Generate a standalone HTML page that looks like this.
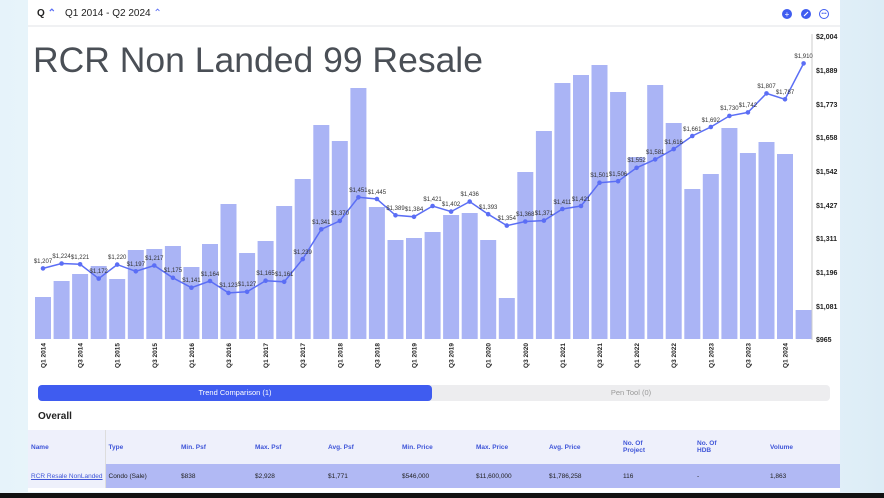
<!DOCTYPE html>
<html><head><meta charset="utf-8"><style>
body{margin:0;width:884px;height:498px;overflow:hidden;background:linear-gradient(90deg,#e6f3fa,#f2fbff 30%,#f2fbff 70%,#dcecf6);font-family:"Liberation Sans",sans-serif;position:relative}
.card{position:absolute;left:28px;top:0;width:812px;height:492px;background:#fff}
.top{position:absolute;left:0;top:0;width:812px;height:25px;border-bottom:2px solid #f0f1f3}
.bot{position:absolute;left:0;top:493px;width:884px;height:5px;background:#111}
table{border-collapse:collapse;font-size:6.5px;position:absolute;left:0;top:430px;width:812px;table-layout:fixed}
th{background:#eef0fb;color:#3f55d8;text-align:left;height:34px;font-weight:bold;padding:0 0 0 3px;vertical-align:middle}
td{background:#b1b9f4;height:24px;padding:0 0 0 3px;color:#222;white-space:nowrap}
</style></head><body>
<div class="card">
<div class="top">
<span style="position:absolute;left:9px;top:8px;font-size:10px;font-weight:bold;color:#222">Q <span style="color:#5b6ef5">⌃</span></span>
<span style="position:absolute;left:37px;top:8px;font-size:10px;color:#222">Q1 2014 - Q2 2024 <span style="color:#5b6ef5">⌃</span></span>
<svg style="position:absolute;left:752px;top:8px" width="50" height="12"><circle cx="7" cy="6" r="5" fill="#3f5cf0"/><text x="7" y="9" font-size="8" fill="#fff" text-anchor="middle">+</text><circle cx="26" cy="6" r="5" fill="#3f5cf0"/><line x1="24" y1="8" x2="28" y2="4" stroke="#fff" stroke-width="1.2"/><circle cx="44" cy="6" r="4.5" fill="none" stroke="#3f5cf0"/><text x="44" y="7" font-size="5" fill="#3f5cf0" text-anchor="middle">•••</text></svg>
</div>
<div style="position:absolute;left:5px;top:40px;font-size:35.5px;color:#4a4f56">RCR Non Landed 99 Resale</div>
<div style="position:absolute;left:10px;top:385px;width:792px;height:16px;background:#ededef;border-radius:4px"></div>
<div style="position:absolute;left:10px;top:385px;width:394px;height:16px;background:#3f5cf0;border-radius:4px;color:#fff;font-size:7.5px;text-align:center;line-height:16px">Trend Comparison (1)</div>
<div style="position:absolute;left:404px;top:385px;width:398px;height:16px;color:#999;font-size:7.5px;text-align:center;line-height:16px">Pen Tool (0)</div>
<div style="position:absolute;left:10px;top:411px;font-size:10px;font-weight:bold;color:#222">Overall</div>
<table><colgroup><col style="width:77px"><col style="width:73px"><col style="width:74px"><col style="width:73px"><col style="width:74px"><col style="width:74px"><col style="width:73px"><col style="width:74px"><col style="width:74px"><col style="width:73px"><col></colgroup>
<tr><th style="border-right:1px solid #ddd">Name</th><th>Type</th><th>Min. Psf</th><th>Max. Psf</th><th>Avg. Psf</th><th>Min. Price</th><th>Max. Price</th><th>Avg. Price</th><th>No. Of<br>Project</th><th>No. Of<br>HDB</th><th>Volume</th></tr>
<tr><td style="background:#eef0fb;color:#3f55d8;text-decoration:underline;border-right:1px solid #ddd">RCR Resale NonLanded</td><td>Condo (Sale)</td><td>$838</td><td>$2,928</td><td>$1,771</td><td>$546,000</td><td>$11,600,000</td><td>$1,786,258</td><td>116</td><td>-</td><td>1,863</td></tr></table>
</div>
<svg style="position:absolute;left:0;top:0" width="884" height="380" font-family="Liberation Sans,sans-serif">
<g fill="#aab4f5">
<rect x="35" y="297" width="16" height="42"/><rect x="53.6" y="281" width="16" height="58"/><rect x="72.1" y="274" width="16" height="65"/><rect x="90.7" y="266" width="16" height="73"/><rect x="109.2" y="279" width="16" height="60"/><rect x="127.8" y="250" width="16" height="89"/><rect x="146.3" y="249" width="16" height="90"/><rect x="164.9" y="246" width="16" height="93"/><rect x="183.4" y="267" width="16" height="72"/><rect x="202" y="244" width="16" height="95"/><rect x="220.5" y="204" width="16" height="135"/><rect x="239.1" y="253" width="16" height="86"/><rect x="257.6" y="241" width="16" height="98"/><rect x="276.2" y="206" width="16" height="133"/><rect x="294.7" y="179" width="16" height="160"/><rect x="313.3" y="125" width="16" height="214"/><rect x="331.8" y="141" width="16" height="198"/><rect x="350.4" y="88" width="16" height="251"/><rect x="368.9" y="207" width="16" height="132"/><rect x="387.5" y="240" width="16" height="99"/><rect x="406" y="238" width="16" height="101"/><rect x="424.6" y="232" width="16" height="107"/><rect x="443.1" y="215" width="16" height="124"/><rect x="461.7" y="213" width="16" height="126"/><rect x="480.2" y="240" width="16" height="99"/><rect x="498.8" y="298" width="16" height="41"/><rect x="517.3" y="172" width="16" height="167"/><rect x="535.9" y="131" width="16" height="208"/><rect x="554.4" y="83" width="16" height="256"/><rect x="573" y="75" width="16" height="264"/><rect x="591.5" y="65" width="16" height="274"/><rect x="610.1" y="92" width="16" height="247"/><rect x="628.6" y="157" width="16" height="182"/><rect x="647.2" y="85" width="16" height="254"/><rect x="665.7" y="123" width="16" height="216"/><rect x="684.3" y="189" width="16" height="150"/><rect x="702.8" y="174" width="16" height="165"/><rect x="721.4" y="128" width="16" height="211"/><rect x="739.9" y="153" width="16" height="186"/><rect x="758.5" y="142" width="16" height="197"/><rect x="777" y="154" width="16" height="185"/><rect x="795.6" y="310" width="16" height="29"/>
</g>
<line x1="812" y1="34" x2="812" y2="340" stroke="#ccc"/>
<polyline fill="none" stroke="#5b6ef5" stroke-width="1.5" points="43,268.4 61.6,263.5 80.1,264.3 98.7,278.6 117.2,264.6 135.8,271.3 154.3,265.5 172.9,277.8 191.4,287.7 210,281 228.5,292.9 247.1,291.8 265.6,280.7 284.2,281.8 302.7,259.1 321.3,229.3 339.8,220.9 358.4,197.3 376.9,199 395.5,215.3 414,216.8 432.6,206 451.1,211.6 469.7,201.6 488.2,214.2 506.8,225.6 525.3,221.5 543.9,220.6 562.4,209 581,206 599.5,182.7 618.1,181.2 636.6,167.8 655.2,159.4 673.7,149.1 692.3,136 710.8,127 729.4,115.9 747.9,112.4 766.5,93.4 785,99.3 803.6,63.4"/>
<g fill="#5b6ef5">
<circle cx="43" cy="268.4" r="2.3"/><circle cx="61.6" cy="263.5" r="2.3"/><circle cx="80.1" cy="264.3" r="2.3"/><circle cx="98.7" cy="278.6" r="2.3"/><circle cx="117.2" cy="264.6" r="2.3"/><circle cx="135.8" cy="271.3" r="2.3"/><circle cx="154.3" cy="265.5" r="2.3"/><circle cx="172.9" cy="277.8" r="2.3"/><circle cx="191.4" cy="287.7" r="2.3"/><circle cx="210" cy="281" r="2.3"/><circle cx="228.5" cy="292.9" r="2.3"/><circle cx="247.1" cy="291.8" r="2.3"/><circle cx="265.6" cy="280.7" r="2.3"/><circle cx="284.2" cy="281.8" r="2.3"/><circle cx="302.7" cy="259.1" r="2.3"/><circle cx="321.3" cy="229.3" r="2.3"/><circle cx="339.8" cy="220.9" r="2.3"/><circle cx="358.4" cy="197.3" r="2.3"/><circle cx="376.9" cy="199" r="2.3"/><circle cx="395.5" cy="215.3" r="2.3"/><circle cx="414" cy="216.8" r="2.3"/><circle cx="432.6" cy="206" r="2.3"/><circle cx="451.1" cy="211.6" r="2.3"/><circle cx="469.7" cy="201.6" r="2.3"/><circle cx="488.2" cy="214.2" r="2.3"/><circle cx="506.8" cy="225.6" r="2.3"/><circle cx="525.3" cy="221.5" r="2.3"/><circle cx="543.9" cy="220.6" r="2.3"/><circle cx="562.4" cy="209" r="2.3"/><circle cx="581" cy="206" r="2.3"/><circle cx="599.5" cy="182.7" r="2.3"/><circle cx="618.1" cy="181.2" r="2.3"/><circle cx="636.6" cy="167.8" r="2.3"/><circle cx="655.2" cy="159.4" r="2.3"/><circle cx="673.7" cy="149.1" r="2.3"/><circle cx="692.3" cy="136" r="2.3"/><circle cx="710.8" cy="127" r="2.3"/><circle cx="729.4" cy="115.9" r="2.3"/><circle cx="747.9" cy="112.4" r="2.3"/><circle cx="766.5" cy="93.4" r="2.3"/><circle cx="785" cy="99.3" r="2.3"/><circle cx="803.6" cy="63.4" r="2.3"/>
</g>
<g font-size="6" fill="#333" text-anchor="middle">
<text x="43" y="263">$1,207</text><text x="61.6" y="258">$1,224</text><text x="80.1" y="259">$1,221</text><text x="98.7" y="273">$1,172</text><text x="117.2" y="259">$1,220</text><text x="135.8" y="266">$1,197</text><text x="154.3" y="260">$1,217</text><text x="172.9" y="272">$1,175</text><text x="191.4" y="282">$1,141</text><text x="210" y="276">$1,164</text><text x="228.5" y="287">$1,123</text><text x="247.1" y="286">$1,127</text><text x="265.6" y="275">$1,165</text><text x="284.2" y="276">$1,161</text><text x="302.7" y="254">$1,239</text><text x="321.3" y="224">$1,341</text><text x="339.8" y="215">$1,370</text><text x="358.4" y="192">$1,451</text><text x="376.9" y="194">$1,445</text><text x="395.5" y="210">$1,389</text><text x="414" y="211">$1,384</text><text x="432.6" y="201">$1,421</text><text x="451.1" y="206">$1,402</text><text x="469.7" y="196">$1,436</text><text x="488.2" y="209">$1,393</text><text x="506.8" y="220">$1,354</text><text x="525.3" y="216">$1,368</text><text x="543.9" y="215">$1,371</text><text x="562.4" y="204">$1,411</text><text x="581" y="201">$1,421</text><text x="599.5" y="177">$1,501</text><text x="618.1" y="176">$1,506</text><text x="636.6" y="162">$1,552</text><text x="655.2" y="154">$1,581</text><text x="673.7" y="144">$1,616</text><text x="692.3" y="131">$1,661</text><text x="710.8" y="122">$1,692</text><text x="729.4" y="110">$1,730</text><text x="747.9" y="107">$1,742</text><text x="766.5" y="88">$1,807</text><text x="785" y="94">$1,787</text><text x="803.6" y="58">$1,910</text>
</g>
<g font-size="7" font-weight="bold" fill="#222">
<text x="816" y="39">$2,004</text><text x="816" y="73">$1,889</text><text x="816" y="107">$1,773</text><text x="816" y="140">$1,658</text><text x="816" y="174">$1,542</text><text x="816" y="208">$1,427</text><text x="816" y="241">$1,311</text><text x="816" y="275">$1,196</text><text x="816" y="309">$1,081</text><text x="816" y="342">$965</text>
</g>
<g font-size="6.5" font-weight="bold" fill="#222" text-anchor="end">
<text transform="translate(45.5,343) rotate(-90)">Q1 2014</text><text transform="translate(82.6,343) rotate(-90)">Q3 2014</text><text transform="translate(119.7,343) rotate(-90)">Q1 2015</text><text transform="translate(156.8,343) rotate(-90)">Q3 2015</text><text transform="translate(193.9,343) rotate(-90)">Q1 2016</text><text transform="translate(231,343) rotate(-90)">Q3 2016</text><text transform="translate(268.1,343) rotate(-90)">Q1 2017</text><text transform="translate(305.2,343) rotate(-90)">Q3 2017</text><text transform="translate(342.3,343) rotate(-90)">Q1 2018</text><text transform="translate(379.4,343) rotate(-90)">Q3 2018</text><text transform="translate(416.5,343) rotate(-90)">Q1 2019</text><text transform="translate(453.6,343) rotate(-90)">Q3 2019</text><text transform="translate(490.7,343) rotate(-90)">Q1 2020</text><text transform="translate(527.8,343) rotate(-90)">Q3 2020</text><text transform="translate(564.9,343) rotate(-90)">Q1 2021</text><text transform="translate(602,343) rotate(-90)">Q3 2021</text><text transform="translate(639.1,343) rotate(-90)">Q1 2022</text><text transform="translate(676.2,343) rotate(-90)">Q3 2022</text><text transform="translate(713.3,343) rotate(-90)">Q1 2023</text><text transform="translate(750.4,343) rotate(-90)">Q3 2023</text><text transform="translate(787.5,343) rotate(-90)">Q1 2024</text>
</g>
</svg>
<div class="bot"></div>
</body></html>
